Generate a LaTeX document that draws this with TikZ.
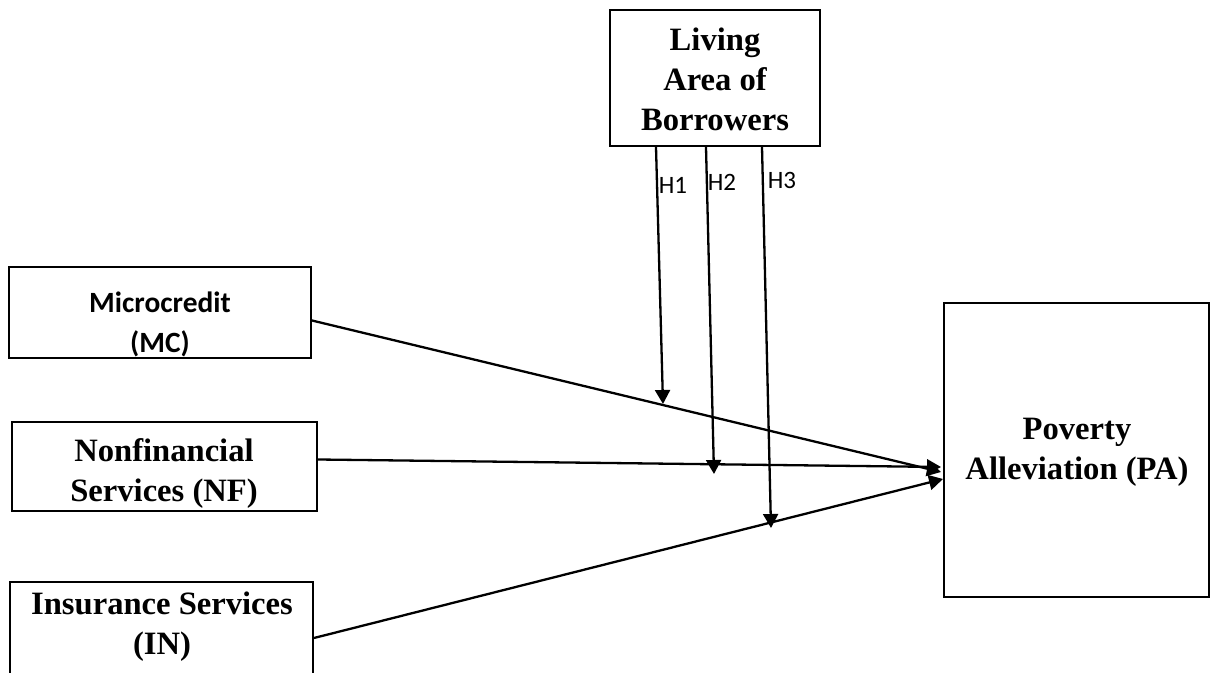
\documentclass[tikz,border=0pt]{standalone}
\usepackage{fontspec}
\setmainfont{Liberation Serif}
\newfontfamily\calibri{Carlito}
\usetikzlibrary{arrows.meta,calc}
\begin{document}
\begin{tikzpicture}[x=0.5pt,y=-0.5pt,
  box/.style={draw,line width=1pt,rectangle,inner sep=0pt},
  lbl/.style={font=\bfseries\fontsize{16.3}{20}\selectfont,align=center,inner sep=0pt},
  clbl/.style={font=\calibri\bfseries\fontsize{14.7}{20}\selectfont,align=center,inner sep=0pt},
  arr/.style={line width=1.15pt,-{Triangle[length=7pt,width=7.5pt]}},
  hl/.style={font=\calibri\fontsize{12.5}{14}\selectfont,inner sep=0pt}]
\useasboundingbox (0,0) rectangle (1211,673);
\begin{scope}
\clip (0,0) rectangle (1211,673);
% boxes
\node[box,minimum width=105pt,minimum height=68pt] (lab) at (715,78) {};
\node[box,minimum width=151pt,minimum height=45.5pt] (mc) at (160,312.5) {};
\node[box,minimum width=152.5pt,minimum height=44.5pt] (nf) at (164.5,466.5) {};
\node[box,minimum width=151.5pt,minimum height=90pt] (in) at (161.5,672) {};
\node[box,minimum width=132.5pt,minimum height=147pt] (pa) at (1076.5,450) {};
\end{scope}
% texts
\node[lbl] (labt) at (715,79) {Living\\Area of\\Borrowers};
\node[clbl] (mct) at (160,324) {Microcredit\\(MC)};
\node[lbl] (nft) at (164,473) {Nonfinancial\\Services (NF)};
\node[lbl] (int) at (162,627) {Insurance Services\\(IN)};
\node[lbl] (pat) at (1077,452) {Poverty\\Alleviation (PA)};
% hypothesis labels
\node[hl] (h1) at (673,185) {H1};
\node[hl] (h2) at (722,182) {H2};
\node[hl] (h3) at (782,180) {H3};
% arrow end points
\coordinate (t1) at (663,404);
\coordinate (t2) at (714,474);
\coordinate (t3) at (771,528);
\coordinate (p1) at (941,472);
\coordinate (p2) at (941,467);
\coordinate (p3) at (943,479);
% main arrows
\draw[arr] ($(mc.east)+(0,8)$) -- (p1);
\draw[arr] ($(nf.east)+(0,-7)$) -- (p2);
\draw[arr] ($(in.east)+(0,-34)$) -- (p3);
% moderating arrows
\draw[arr] ($(lab.south west)+(47,0)$) -- (t1);
\draw[arr] ($(lab.south west)+(97,0)$) -- (t2);
\draw[arr] ($(lab.south west)+(153,0)$) -- (t3);
\end{tikzpicture}
\end{document}
